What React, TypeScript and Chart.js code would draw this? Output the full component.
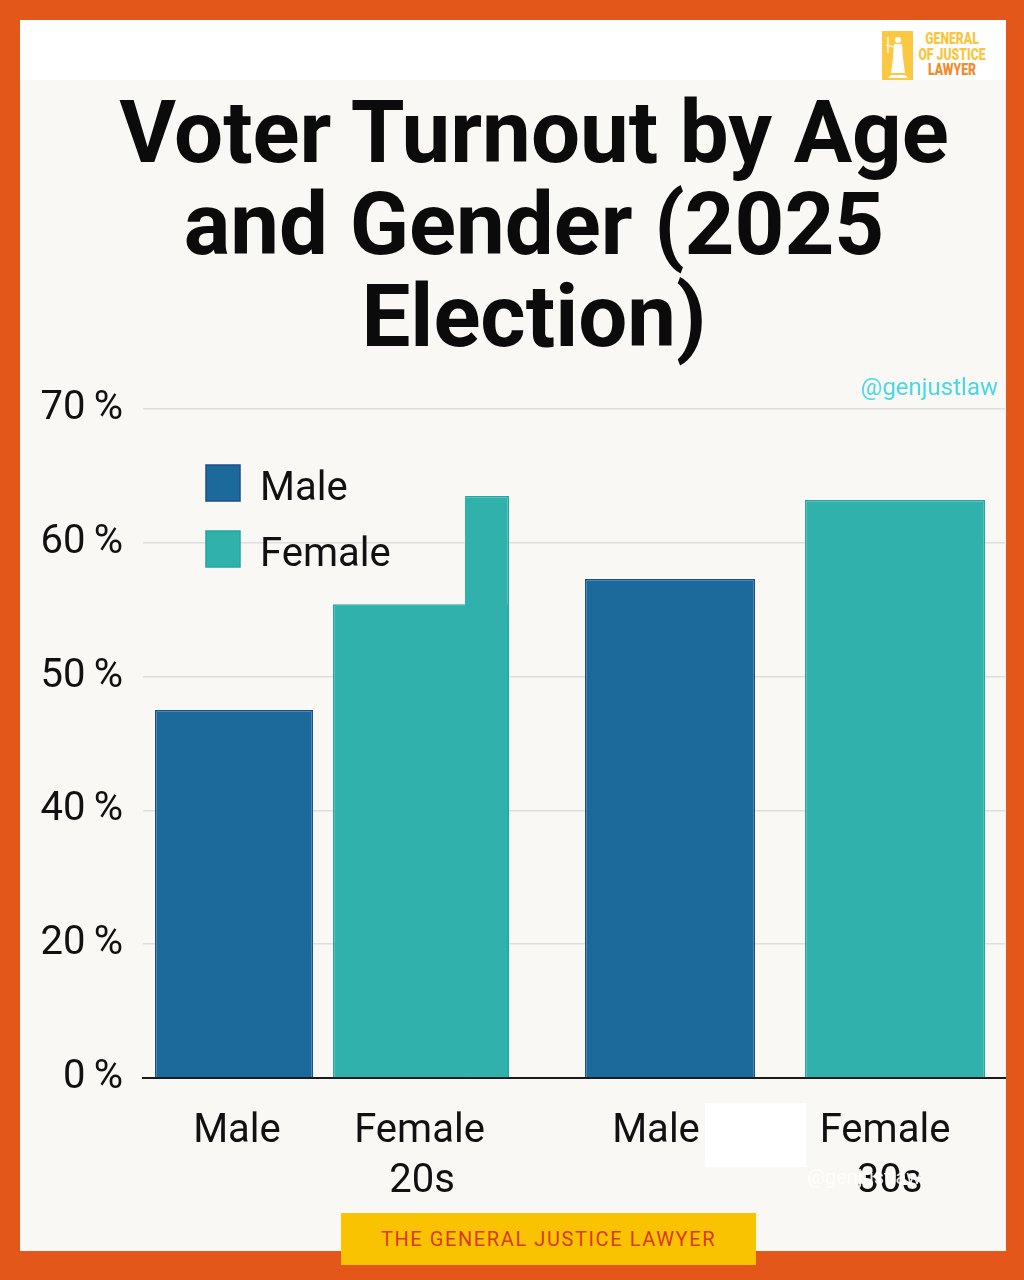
import React, { useEffect, useRef } from "react";
import { Chart, registerables } from "chart.js";

Chart.register(...registerables);

// ---- data ----
const ageGroups = ["20s", "30s"];
const genders = ["Male", "Female"];
const maleTurnout = [47.5, 57.3];
const femaleTurnout = [55.4, 63.2];
const femalePeak: (number | null)[] = [63.5, null]; // raised notch on the 20s female bar
const tickValues = [0, 20, 40, 50, 60, 70];
const tickLabels = ["0\u2009%", "20\u2009%", "40\u2009%", "50\u2009%", "60\u2009%", "70\u2009%"];

// ---- styles ----
const FONT = "Roboto, 'Liberation Sans', Arial, sans-serif";
const fillColors: Record<string, string> = { Male: "#1c6a9b", Female: "#31b1ab" };
const borderColors: Record<string, string> = { Male: "#1b4f8c", Female: "#22a79c" };
// per-bar width/offset inside its age-group slot, and label nudges
const maleGeom = [
  { cat: 1.1555, bar: 0.6345, shift: 3 },
  { cat: 1.109, bar: 0.7113, shift: -14 },
];
const femaleGeom = [
  { cat: 0.58, bar: 1.408, shift: -1.5, groupShift: 1 },
  { cat: 0.9791, bar: 0.8531, shift: -10, groupShift: -5.5 },
];
const peakGeom = { cat: 1.1926, bar: 0.1712 };

// the value axis is evenly spaced between non-uniform tick values
function toAxis(p: number): number {
  for (let i = 1; i < tickValues.length; i++) {
    if (p <= tickValues[i]) {
      return i - 1 + (p - tickValues[i - 1]) / (tickValues[i] - tickValues[i - 1]);
    }
  }
  return tickValues.length - 1;
}

function buildDatasets() {
  const sets: any[] = [];
  ageGroups.forEach((g, i) => {
    sets.push({
      label: "Male",
      data: ageGroups.map((_, j) => (j === i ? toAxis(maleTurnout[i]) : null)),
      stack: "m",
      order: 0,
      categoryPercentage: maleGeom[i].cat,
      barPercentage: maleGeom[i].bar,
      backgroundColor: fillColors.Male,
      borderColor: borderColors.Male,
      borderWidth: 1.5,
      axisLabel: "Male",
      labelShift: maleGeom[i].shift,
      groupLabel: null,
      dataIndex: i,
    });
  });
  ageGroups.forEach((g, i) => {
    const peak = femalePeak[i];
    if (peak == null) return;
    sets.push({
      label: "Female",
      data: ageGroups.map((_, j) => (j === i ? toAxis(peak) : null)),
      stack: "f",
      order: 1,
      categoryPercentage: peakGeom.cat,
      barPercentage: peakGeom.bar,
      backgroundColor: fillColors.Female,
      borderColor: borderColors.Female,
      borderWidth: { top: 1.5, right: 1.5, left: 0, bottom: 0 },
      dataIndex: i,
    });
  });
  ageGroups.forEach((g, i) => {
    const notched = femalePeak[i] != null;
    sets.push({
      label: "Female",
      data: ageGroups.map((_, j) => (j === i ? toAxis(femaleTurnout[i]) : null)),
      stack: "f",
      order: 2,
      categoryPercentage: femaleGeom[i].cat,
      barPercentage: femaleGeom[i].bar,
      backgroundColor: fillColors.Female,
      borderColor: borderColors.Female,
      borderWidth: notched ? { top: 1.5, left: 1.5, right: 0, bottom: 0 } : 1.5,
      axisLabel: "Female",
      labelShift: femaleGeom[i].shift,
      groupLabel: g,
      groupShift: femaleGeom[i].groupShift,
      dataIndex: i,
    });
  });
  return sets;
}

const insetLegend = {
  id: "insetLegend",
  afterDatasetsDraw(chart: any) {
    const { ctx, chartArea } = chart;
    ctx.save();
    genders.forEach((g, i) => {
      const x = chartArea.left + 63;
      const y = chartArea.top + 56 + i * 66;
      ctx.fillStyle = fillColors[g];
      ctx.strokeStyle = borderColors[g];
      ctx.lineWidth = 1.5;
      ctx.fillRect(x, y, 34, 36);
      ctx.strokeRect(x, y, 34, 36);
      ctx.fillStyle = "#111111";
      ctx.font = `40px ${FONT}`;
      ctx.textAlign = "left";
      ctx.textBaseline = "alphabetic";
      ctx.fillText(g, x + 54, y + 35);
    });
    ctx.restore();
  },
};

const barLabels = {
  id: "barLabels",
  afterDraw(chart: any) {
    const { ctx, chartArea } = chart;
    ctx.save();
    ctx.fillStyle = "#111111";
    ctx.font = `40px ${FONT}`;
    ctx.textAlign = "center";
    ctx.textBaseline = "alphabetic";
    chart.data.datasets.forEach((ds: any, di: number) => {
      if (!ds.axisLabel) return;
      const el = chart.getDatasetMeta(di).data[ds.dataIndex];
      if (!el) return;
      ctx.fillText(ds.axisLabel, el.x + (ds.labelShift || 0), chartArea.bottom + 64);
      if (ds.groupLabel) ctx.fillText(ds.groupLabel, el.x + (ds.groupShift || 0), chartArea.bottom + 114);
    });
    ctx.restore();
  },
};

function TurnoutChart() {
  const ref = useRef<HTMLCanvasElement | null>(null);
  useEffect(() => {
    let chart: Chart | null = null;
    let cancelled = false;
    const make = () => {
      if (cancelled || !ref.current) return;
      chart = new Chart(ref.current, {
        type: "bar",
        data: { labels: ageGroups, datasets: buildDatasets() },
        plugins: [insetLegend, barLabels],
        options: {
          animation: false,
          responsive: false,
          devicePixelRatio: 1,
          layout: { padding: { top: 28, right: 1, left: 0, bottom: 0 } },
          plugins: { legend: { display: false }, tooltip: { enabled: false } },
          scales: {
            x: {
              type: "category",
              grid: { display: false },
              border: { display: true, color: "#1a1a1a", width: 2 },
              ticks: { display: false },
              afterFit: (s: any) => {
                s.height = 132;
              },
            },
            y: {
              type: "linear",
              min: 0,
              max: tickValues.length - 1,
              stacked: false,
              border: { display: false },
              grid: {
                drawTicks: false,
                lineWidth: 1.5,
                color: (c: any) => (c.tick && c.tick.value === 0 ? "rgba(0,0,0,0)" : "#dedede"),
              },
              ticks: {
                stepSize: 1,
                padding: 20,
                color: "#111111",
                font: { family: FONT, size: 40 },
                callback: (v: any) => tickLabels[v] ?? "",
              },
              afterFit: (s: any) => {
                s.width = 123;
              },
            },
          },
        } as any,
      });
    };
    const fonts: any = (document as any).fonts;
    if (fonts && fonts.load) {
      Promise.all([fonts.load(`40px Roboto`), fonts.load(`bold 40px Roboto`)]).then(make, make);
    } else make();
    return () => {
      cancelled = true;
      if (chart) chart.destroy();
    };
  }, []);
  return <canvas ref={ref} width={986} height={845} style={{ position: "absolute", left: 20, top: 365 }} />;
}

function Logo() {
  return (
    <div style={{ position: "absolute", left: 882, top: 31 }}>
      <svg width={31} height={49} style={{ position: "absolute", left: 0, top: 0 }}>
        <rect x={0} y={0} width={31} height={49} fill="#fbc842" />
        <circle cx={16} cy={9} r={3} fill="#fff" />
        <path d="M12 13 L20 13 L21 27 L23 42 L9 42 L11 27 Z" fill="#fff" />
        <path d="M9 44 L23 44 L26 47 L6 47 Z" fill="#fff" />
        <line x1={6} y1={6} x2={6} y2={22} stroke="#fff" strokeWidth={1.2} />
        <line x1={4} y1={14} x2={12} y2={16} stroke="#fff" strokeWidth={1.2} />
      </svg>
      <div
        style={{
          position: "absolute",
          left: 34,
          top: 0,
          width: 100,
          fontFamily: FONT,
          fontWeight: 900,
          fontSize: 17,
          lineHeight: "15.5px",
          textAlign: "center",
          whiteSpace: "nowrap",
          transform: "scaleX(0.72)",
          transformOrigin: "0 0",
        }}
      >
        <div style={{ color: "#f9c53c" }}>GENERAL</div>
        <div style={{ color: "#f9c53c" }}>OF JUSTICE</div>
        <div style={{ color: "#f28a2e" }}>LAWYER</div>
      </div>
    </div>
  );
}

export default function App() {
  const titleLines = ["Voter Turnout by Age", "and Gender (2025", "Election)"];
  return (
    <div
      style={{
        position: "absolute",
        left: 0,
        top: 0,
        width: 1024,
        height: 1280,
        background: "#e3571b",
        overflow: "hidden",
        fontFamily: FONT,
      }}
    >
      <div style={{ position: "absolute", left: 20, top: 20, width: 986, height: 1231, background: "#faf8f4" }} />
      <div style={{ position: "absolute", left: 20, top: 20, width: 986, height: 60, background: "#ffffff" }} />
      <Logo />
      {titleLines.map((t, i) => (
        <div
          key={i}
          style={{
            position: "absolute",
            left: 48,
            width: 972,
            top: 86 + i * 92,
            fontSize: 87,
            lineHeight: "92px",
            fontWeight: 700,
            color: "#0b0b0b",
            textAlign: "center",
            whiteSpace: "nowrap",
          }}
        >
          {t}
        </div>
      ))}
      <TurnoutChart />
      <div
        style={{
          position: "absolute",
          right: 26,
          top: 372,
          fontSize: 24,
          lineHeight: "30px",
          color: "#4bd7e6",
        }}
      >
        @genjustlaw
      </div>
      <div style={{ position: "absolute", left: 705, top: 1103, width: 101, height: 64, background: "#ffffff" }} />
      <div
        style={{
          position: "absolute",
          left: 807,
          top: 1165,
          fontSize: 20,
          lineHeight: "24px",
          color: "rgba(255,255,255,0.9)",
        }}
      >
        @genjustlaw
      </div>
      <div
        style={{
          position: "absolute",
          left: 341,
          top: 1213,
          width: 415,
          height: 52,
          background: "#f9c301",
          display: "flex",
          alignItems: "center",
          justifyContent: "center",
          color: "#d8391f",
          fontSize: 20,
          letterSpacing: 1.6,
        }}
      >
        THE GENERAL JUSTICE LAWYER
      </div>
    </div>
  );
}
